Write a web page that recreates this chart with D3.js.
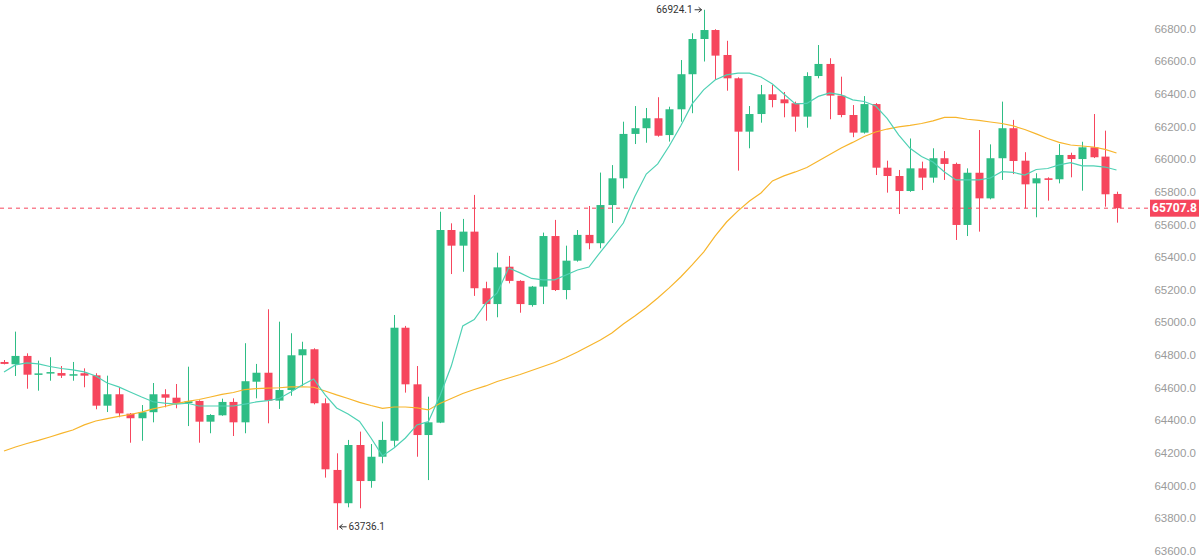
<!DOCTYPE html>
<html>
<head>
<meta charset="utf-8">
<script src="https://cdn.jsdelivr.net/npm/d3@7/dist/d3.min.js"></script>
<style>
  html, body { margin: 0; padding: 0; background: #fff; }
  svg { display: block; font-family: Roboto, "Liberation Sans", Arial, sans-serif; }
</style>
</head>
<body>
<div id="chart"></div>
<script>
// OHLC per candle, oldest first
var opens = [64765,64751,64802,64690,64697,64697,64681,64696,64683,64497,
  64567,64448,64420,64457,64567,64546,64513,64526,64399,64438,
  64520,64395,64644,64699,64528,64593,64806,64843,64512,64103,
  63899,64256,64035,64184,64282,64975,64628,64317,64393,65574,
  65478,65564,65217,65120,65349,65262,65114,65227,65537,65206,
  65386,65544,65493,65727,65891,66163,66198,66259,66156,66314,
  66529,66745,66800,66647,66504,66177,66285,66406,66375,66351,
  66269,66518,66592,66398,66279,66171,66346,65956,65905,65813,
  65952,65895,66014,65979,65605,65925,65768,66014,66198,65999,
  65860,65891,65885,66034,66009,66081,66024,65795];
var highs = [64777,64951,64818,64773,64794,64740,64765,64726,64696,64681,
  64610,64452,64501,64636,64598,64630,64736,64530,64445,64540,
  64542,64880,64753,65088,65012,64941,64889,64849,64542,64205,
  64287,64338,64262,64399,65053,64986,64740,64552,65686,65615,
  65642,65789,65257,65435,65415,65266,65231,65558,65636,65478,
  65574,65721,65926,65972,66238,66334,66322,66388,66330,66616,
  66780,66924.1,66805,66734,66510,66334,66463,66463,66420,66361,
  66541,66708,66627,66514,66340,66395,66352,65999,65942,66135,
  65993,66075,66058,65987,65952,66187,66099,66361,66249,66051,
  65922,65897,66101,66048,66115,66285,66183,65809];
var lows = [64750,64679,64601,64589,64650,64667,64650,64610,64475,64458,
  64426,64270,64282,64395,64487,64481,64372,64270,64328,64435,
  64311,64328,64542,64389,64477,64558,64617,64505,64056,63736.1,
  63874,63868,63994,64144,64246,64577,64184,64041,64390,65304,
  65318,65170,65018,65039,65247,65067,65104,65120,65200,65149,
  65380,65456,65462,65617,65829,66101,66109,66146,66116,66238,
  66290,66607,66494,66428,65938,66075,66232,66326,66265,66177,
  66201,66504,66253,66265,66143,66165,65911,65803,65672,65808,
  65819,65864,65881,65513,65537,65564,65762,65881,65917,65707,
  65652,65754,65860,65897,65815,66015,65717,65619];
var closes = [64753,64802,64687,64695,64703,64681,64690,64681,64497,64567,
  64450,64420,64457,64567,64546,64512,64524,64399,64440,64520,
  64395,64647,64699,64528,64593,64806,64843,64512,64107,63899,
  64256,64035,64184,64287,64975,64628,64317,64395,65574,65478,
  65564,65217,65120,65345,65262,65120,65227,65537,65206,65386,
  65544,65493,65727,65891,66163,66198,66259,66152,66314,66529,
  66745,66800,66643,66504,66177,66285,66406,66371,66351,66269,
  66518,66592,66398,66279,66171,66346,65956,65905,65813,65952,
  65895,66014,65979,65605,65925,65768,66014,66198,65997,65854,
  65891,65881,66034,66009,66081,66020,65793,65707.8];

// moving averages as drawn
var maFast = [64704,64747,64759,64753,64737,64725,64716,64704,64679,64636,
  64612,64581,64550,64521,64513,64507,64512,64495,64495,64495,
  64495,64507,64520,64528,64541,64581,64624,64661,64563,64483,
  64446,64400,64299,64189,64238,64299,64379,64399,64556,64740,
  64986,65025,65124,65188,65341,65311,65277,65268,65268,65298,
  65329,65347,65439,65525,65617,65780,65917,65979,66089,66212,
  66347,66433,66494,66525,66536,66536,66512,66469,66408,66347,
  66350,66393,66414,66402,66372,66362,66334,66258,66157,66075,
  66025,65991,65930,65881,65881,65881,65893,65932,65927,65911,
  65945,65951,65973,65987,65967,65967,65960,65942];
var maSlow = [64219,64244,64265,64284,64305,64327,64348,64379,64403,64418,
  64431,64443,64458,64477,64492,64510,64523,64535,64550,64566,
  64578,64596,64602,64605,64607,64612,64613,64610,64587,64563,
  64541,64517,64498,64481,64489,64489,64483,64471,64510,64541,
  64572,64596,64618,64645,64667,64688,64713,64737,64762,64792,
  64826,64863,64900,64943,64998,65047,65099,65157,65219,65286,
  65360,65439,65537,65623,65691,65752,65801,65875,65906,65930,
  65957,65997,66037,66077,66111,66147,66175,66193,66206,66215,
  66227,66243,66264,66264,66253,66246,66236,66227,66212,66190,
  66163,66135,66111,66095,66089,66083,66068,66046];

var yTicks = d3.range(63600, 67001, 200);
var lastPrice = 65707.8;

var width = 1199, height = 558;
var upColor = '#2ebd85', downColor = '#f6465d';

var svg = d3.select('#chart').append('svg')
    .attr('width', width)
    .attr('height', height);

var x = d3.scaleLinear().domain([0, closes.length - 1]).range([4, 1116.5]);
var y = d3.scaleLinear().domain([63600, 67000]).range([552, -2.6]);

// price axis on the right
var axis = d3.axisRight(y)
    .tickValues(yTicks)
    .tickSize(0)
    .tickPadding(0)
    .tickFormat(d3.format('.1f'));
var axisG = svg.append('g')
    .attr('transform', 'translate(1196,0)')
    .call(axis);
axisG.select('.domain').remove();
axisG.selectAll('text')
    .attr('text-anchor', 'end')
    .attr('dy', '0.2em')
    .style('font-size', '11.5px')
    .style('fill', '#9b9b9b');

var idx = d3.range(closes.length);

// wicks
svg.append('g').selectAll('line')
    .data(idx)
    .enter().append('line')
    .attr('x1', function(i) { return Math.round(x(i)) + 0.5; })
    .attr('x2', function(i) { return Math.round(x(i)) + 0.5; })
    .attr('y1', function(i) { return y(highs[i]); })
    .attr('y2', function(i) { return y(lows[i]); })
    .attr('stroke', function(i) { return closes[i] >= opens[i] ? upColor : downColor; })
    .attr('stroke-width', 1);

// bodies
var bodyW = 8;
svg.append('g').selectAll('rect')
    .data(idx)
    .enter().append('rect')
    .attr('x', function(i) { return Math.round(x(i)) + 0.5 - bodyW / 2; })
    .attr('y', function(i) { return y(Math.max(opens[i], closes[i])); })
    .attr('width', bodyW)
    .attr('height', function(i) { return Math.max(1.5, Math.abs(y(opens[i]) - y(closes[i]))); })
    .attr('fill', function(i) { return closes[i] >= opens[i] ? upColor : downColor; });

// moving averages
var line = function(arr) {
    return d3.line()
        .x(function(d, i) { return x(i); })
        .y(function(d) { return y(d); })(arr);
};
svg.append('path')
    .attr('d', line(maSlow))
    .attr('fill', 'none')
    .attr('stroke', '#f7b52c')
    .attr('stroke-width', 1.2);
svg.append('path')
    .attr('d', line(maFast))
    .attr('fill', 'none')
    .attr('stroke', '#4fd1b4')
    .attr('stroke-width', 1.2);

// last price line and tag
var py = y(lastPrice);
svg.append('line')
    .attr('x1', 0).attr('x2', 1150)
    .attr('y1', py).attr('y2', py)
    .attr('stroke', downColor)
    .attr('stroke-width', 1)
    .style('stroke-dasharray', '4, 4');
svg.append('rect')
    .attr('x', 1150).attr('y', py - 8.5)
    .attr('width', 49).attr('height', 17)
    .attr('fill', downColor);
svg.append('text')
    .attr('x', 1174.5).attr('y', py)
    .attr('dy', '0.35em')
    .attr('text-anchor', 'middle')
    .style('font-size', '12px')
    .style('font-weight', 'bold')
    .style('fill', '#fff')
    .text(d3.format('.1f')(lastPrice));

// high / low markers: small arrow + value
var arrow = function(x1, x2, yy) {
    var dir = x2 > x1 ? 1 : -1;
    svg.append('path')
        .attr('d', 'M' + x1 + ',' + yy + 'H' + x2 +
              'M' + (x2 - dir * 3) + ',' + (yy - 2.5) + 'L' + x2 + ',' + yy +
              'L' + (x2 - dir * 3) + ',' + (yy + 2.5))
        .attr('fill', 'none')
        .attr('stroke', '#333')
        .attr('stroke-width', 1);
};
var hiIdx = d3.maxIndex(highs), loIdx = d3.minIndex(lows);
var hx = x(hiIdx), hy = y(highs[hiIdx]);
arrow(hx - 9, hx - 2, hy);
svg.append('text')
    .attr('x', hx - 11).attr('y', hy)
    .attr('dy', '0.35em')
    .attr('text-anchor', 'end')
    .style('font-size', '10px')
    .style('fill', '#333')
    .text(d3.format('.1f')(highs[hiIdx]));
var lx = x(loIdx), ly = y(lows[loIdx]) - 3;
arrow(lx + 10, lx + 3, ly);
svg.append('text')
    .attr('x', lx + 12).attr('y', ly)
    .attr('dy', '0.35em')
    .attr('text-anchor', 'start')
    .style('font-size', '10px')
    .style('fill', '#333')
    .text(d3.format('.1f')(lows[loIdx]));
</script>
</body>
</html>
